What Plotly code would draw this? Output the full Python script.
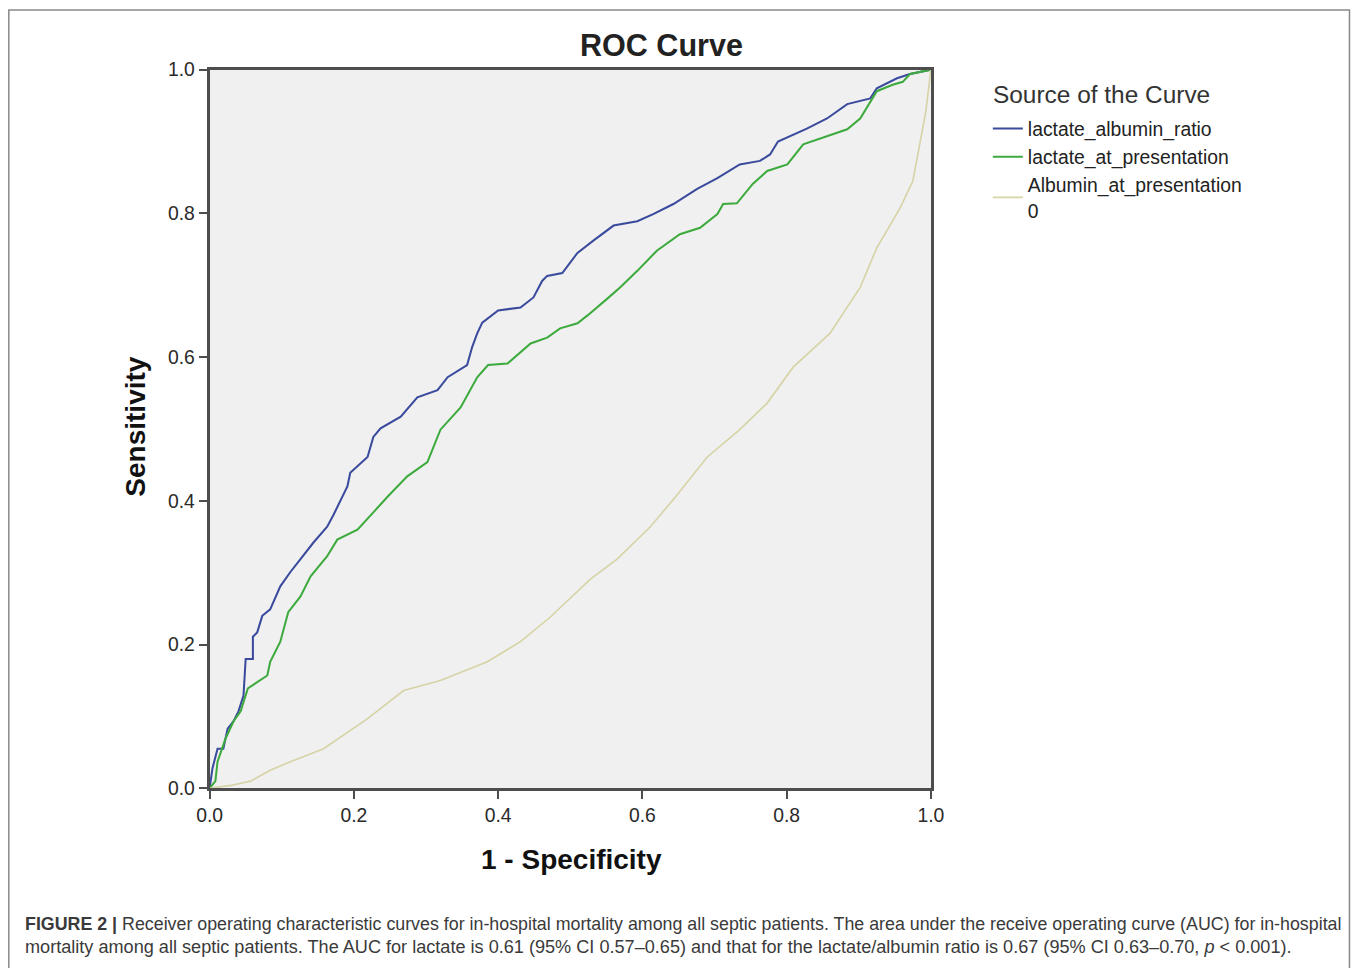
import plotly.graph_objects as go

# ---------------- data ----------------
ratio_fpr = [0, 0.004, 0.011, 0.019, 0.025, 0.033, 0.040, 0.047, 0.050, 0.060, 0.060, 0.066, 0.073,
             0.084, 0.098, 0.112, 0.126, 0.144, 0.163, 0.172, 0.191, 0.195, 0.219, 0.227, 0.237,
             0.265, 0.288, 0.316, 0.330, 0.357, 0.364, 0.371, 0.378, 0.400, 0.431, 0.449, 0.461,
             0.468, 0.489, 0.510, 0.532, 0.560, 0.593, 0.615, 0.643, 0.676, 0.704, 0.735, 0.763,
             0.777, 0.788, 0.828, 0.856, 0.884, 0.916, 0.925, 0.953, 0.971, 1.0]
ratio_tpr = [0, 0.028, 0.055, 0.055, 0.083, 0.093, 0.107, 0.129, 0.180, 0.180, 0.211, 0.217, 0.240,
             0.249, 0.281, 0.301, 0.319, 0.342, 0.364, 0.381, 0.420, 0.439, 0.461, 0.489, 0.501,
             0.517, 0.544, 0.554, 0.572, 0.589, 0.614, 0.633, 0.648, 0.665, 0.669, 0.683, 0.706,
             0.713, 0.717, 0.745, 0.762, 0.783, 0.789, 0.799, 0.813, 0.834, 0.849, 0.868, 0.873,
             0.882, 0.900, 0.918, 0.932, 0.952, 0.960, 0.974, 0.988, 0.994, 1.0]

lactate_fpr = [0, 0.008, 0.011, 0.022, 0.033, 0.043, 0.053, 0.080, 0.084, 0.098, 0.109, 0.126, 0.140,
               0.163, 0.177, 0.205, 0.227, 0.247, 0.274, 0.302, 0.320, 0.348, 0.371, 0.386, 0.413,
               0.431, 0.445, 0.468, 0.486, 0.510, 0.524, 0.551, 0.569, 0.593, 0.620, 0.652, 0.680,
               0.704, 0.712, 0.731, 0.753, 0.773, 0.801, 0.823, 0.846, 0.884, 0.902, 0.916, 0.925,
               0.947, 0.961, 0.971, 1.0]
lactate_tpr = [0, 0.010, 0.037, 0.069, 0.093, 0.107, 0.139, 0.157, 0.176, 0.204, 0.245, 0.267, 0.295,
               0.323, 0.346, 0.360, 0.384, 0.406, 0.434, 0.454, 0.499, 0.530, 0.572, 0.589, 0.591,
               0.607, 0.619, 0.627, 0.640, 0.647, 0.658, 0.681, 0.697, 0.720, 0.748, 0.771, 0.780,
               0.799, 0.813, 0.814, 0.841, 0.859, 0.868, 0.896, 0.904, 0.917, 0.932, 0.956, 0.970,
               0.979, 0.983, 0.994, 1.0]

albumin_fpr = [0, 0.029, 0.057, 0.084, 0.112, 0.158, 0.219, 0.269, 0.320, 0.385, 0.431, 0.472, 0.528,
               0.565, 0.611, 0.643, 0.690, 0.735, 0.773, 0.809, 0.860, 0.902, 0.925, 0.957, 0.975,
               0.985, 0.993, 1.0]
albumin_tpr = [0, 0.004, 0.010, 0.025, 0.037, 0.055, 0.097, 0.136, 0.150, 0.176, 0.204, 0.238, 0.291,
               0.319, 0.364, 0.402, 0.461, 0.499, 0.536, 0.586, 0.633, 0.697, 0.752, 0.807, 0.845,
               0.900, 0.942, 1.0]

series_names = ["lactate_albumin_ratio", "lactate_at_presentation", "Albumin_at_presentation<br>0"]
tick_vals = [0.0, 0.2, 0.4, 0.6, 0.8, 1.0]

title_text = "ROC Curve"
x_title = "1 - Specificity"
y_title = "Sensitivity"
legend_title = "Source of the Curve"
caption_line1 = ("<b>FIGURE 2 |</b> Receiver operating characteristic curves for in-hospital mortality among all "
                 "septic patients. The area under the receive operating curve (AUC) for in-hospital")
caption_line2 = ("mortality among all septic patients. The AUC for lactate is 0.61 (95% CI 0.57–0.65) and that for "
                 "the lactate/albumin ratio is 0.67 (95% CI 0.63–0.70, <i>p</i> &lt; 0.001).")

# ---------------- figure ----------------
# The photographed page appears slightly scaled/offset; positions below are
# given in target-picture pixels and mapped onto the page.
S, OX, OY = 0.982, 12.2, 9.1
W, H = 1371, 977
FONT = "Liberation Sans, Arial, sans-serif"

def fx(p):
    return ((p - OX) / S) / W

def fy(p):
    return 1 - ((p - OY) / S) / H

def fs(size):
    return size / S

fig = go.Figure()
fig.add_trace(go.Scatter(x=ratio_fpr, y=ratio_tpr, mode="lines", name=series_names[0],
                         line=dict(color="#3a4a9c", width=fs(2))))
fig.add_trace(go.Scatter(x=lactate_fpr, y=lactate_tpr, mode="lines", name=series_names[1],
                         line=dict(color="#3daa3d", width=fs(2))))
fig.add_trace(go.Scatter(x=albumin_fpr, y=albumin_tpr, mode="lines", name=series_names[2],
                         line=dict(color="#d6d3a6", width=fs(1.6))))

axis_common = dict(
    range=[0, 1], tickvals=tick_vals, tickformat=".1f",
    showgrid=False, zeroline=False,
    showline=True, linecolor="#4d4d4d", linewidth=fs(2.5), mirror=True,
    ticks="outside", ticklen=fs(8), tickwidth=fs(2), tickcolor="#4d4d4d",
    tickfont=dict(family=FONT, size=fs(19), color="#2a2a2a"),
    fixedrange=True,
)

fig.update_layout(
    width=W, height=H,
    margin=dict(l=0, r=0, t=0, b=0),
    paper_bgcolor="white",
    plot_bgcolor="#f0f0f0",
    font=dict(family=FONT, color="#2a2a2a"),
    xaxis=dict(domain=[fx(209), fx(931)], **axis_common),
    yaxis=dict(domain=[fy(790), fy(68)], **axis_common),
    showlegend=True,
    legend=dict(
        x=fx(988), y=fy(108), xanchor="left", yanchor="top",
        bgcolor="rgba(0,0,0,0)",
        font=dict(family=FONT, size=fs(19), color="#222222"),
        itemwidth=30, tracegroupgap=0,
    ),
)

ann = []
ann.append(dict(text="<b>" + title_text + "</b>", x=fx(661), y=fy(43), xref="paper", yref="paper",
                showarrow=False, xanchor="center", yanchor="middle",
                font=dict(family=FONT, size=fs(30), color="#222222")))
ann.append(dict(text="<b>" + x_title + "</b>", x=fx(571), y=fy(862), xref="paper", yref="paper",
                showarrow=False, xanchor="center", yanchor="middle",
                font=dict(family=FONT, size=fs(27.5), color="#111111")))
ann.append(dict(text="<b>" + y_title + "</b>", x=fx(135), y=fy(427), xref="paper", yref="paper",
                showarrow=False, xanchor="center", yanchor="middle", textangle=-90,
                font=dict(family=FONT, size=fs(27.5), color="#111111")))
ann.append(dict(text=legend_title, x=fx(991), y=fy(93), xref="paper", yref="paper",
                showarrow=False, xanchor="left", yanchor="middle",
                font=dict(family=FONT, size=fs(24), color="#333333")))
ann.append(dict(text=caption_line1, x=fx(22), y=fy(926), xref="paper", yref="paper",
                showarrow=False, xanchor="left", yanchor="middle",
                font=dict(family=FONT, size=fs(17.5), color="#3a3a3a")))
ann.append(dict(text=caption_line2, x=fx(22), y=fy(949), xref="paper", yref="paper",
                showarrow=False, xanchor="left", yanchor="middle",
                font=dict(family=FONT, size=fs(17.8), color="#3a3a3a")))
fig.update_layout(annotations=ann)

fig.add_shape(type="rect", xref="paper", yref="paper",
              x0=fx(8), x1=fx(1350), y0=fy(985), y1=fy(8),
              line=dict(color="#8a8a8a", width=fs(1.5)), fillcolor="rgba(0,0,0,0)", layer="below")

fig.write_html(
    "out.html",
    config={"displayModeBar": False},
    post_script="document.body.style.margin='0';document.body.style.padding='0';"
                "document.documentElement.style.overflow='hidden';",
)
